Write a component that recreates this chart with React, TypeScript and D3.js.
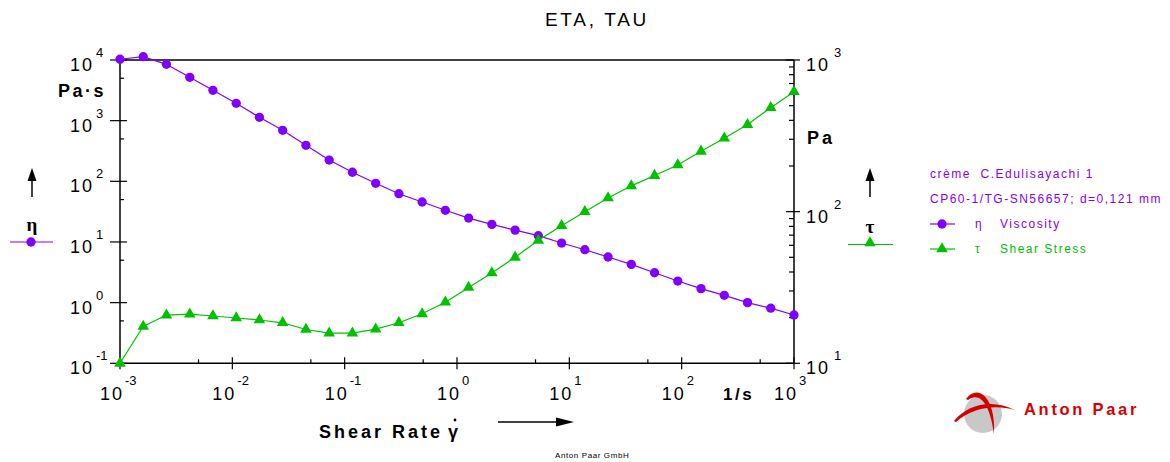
import React, { useRef, useEffect } from 'react';
import * as d3 from 'd3';

// Shear rate points (1/s), log spaced as in the measurement
const shearRate = [
  0.001, 0.00161, 0.00259, 0.00418, 0.00672, 0.01083, 0.01743, 0.02807, 0.0452, 0.07279,
  0.1172, 0.1888, 0.3039, 0.4894, 0.788, 1.269, 2.043, 3.29, 5.298, 8.532,
  13.74, 22.12, 35.62, 57.36, 92.37, 148.7, 239.5, 385.7, 621.0, 1000,
];

// Viscosity eta (Pa·s)
const viscosity = [
  10280, 11330, 8490, 5190, 3165, 1933, 1136, 693, 392, 224,
  141, 92.7, 62.5, 45.6, 33.3, 24.8, 19.5, 15.7, 12.7, 9.61,
  7.46, 5.65, 4.28, 3.11, 2.27, 1.7, 1.32, 1.0, 0.81, 0.625,
];

// Shear stress tau (Pa)
const shearStress = [
  10.0, 17.5, 20.8, 21.1, 20.5, 19.9, 19.3, 18.5, 16.7, 15.8,
  15.8, 16.8, 18.5, 21.2, 25.3, 31.6, 39.4, 50.0, 64.7, 80.8,
  100, 123, 148, 173, 203, 250, 305, 375, 485, 618,
];

const xTickExp = [-3, -2, -1, 0, 1, 2, 3];
const etaTickExp = [-1, 0, 1, 2, 3, 4];
const tauTickExp = [1, 2, 3];

const legendLines = ['crème  C.Edulisayachi 1', 'CP60-1/TG-SN56657; d=0,121 mm'];
const seriesNames = ['Viscosity', 'Shear Stress'];

const PURPLE = '#8000ff';
const GREEN = '#00c000';
const FONT = "Arial, 'Liberation Sans', sans-serif";

export default function App() {
  const ref = useRef<SVGSVGElement>(null);

  useEffect(() => {
    const svg = d3.select(ref.current);
    svg.selectAll('*').remove();

    const left = 120, right = 794, top = 60, bottom = 363.3;

    const x = d3.scaleLog().domain([1e-3, 1e3]).range([left, right]);
    const yEta = d3.scaleLog().domain([1e-1, 1e4]).range([bottom, top]);
    const yTau = d3.scaleLog().domain([10, 1000]).range([bottom, top]);

    // title
    svg.append('text')
      .attr('x', 545).attr('y', 25.5)
      .style('font-family', FONT).style('font-size', '19px').style('letter-spacing', '2.7px')
      .text('ETA, TAU');

    // frame / axes
    const ax = svg.append('g').attr('stroke', '#000').attr('stroke-width', 1.5).attr('fill', 'none');
    ax.append('line').attr('x1', left).attr('x2', right).attr('y1', top).attr('y2', top);
    ax.append('line').attr('x1', left).attr('x2', left).attr('y1', top).attr('y2', bottom);
    ax.append('line').attr('x1', right).attr('x2', right).attr('y1', top).attr('y2', bottom);
    ax.append('line').attr('x1', left).attr('x2', right).attr('y1', bottom).attr('y2', bottom);

    const tk = svg.append('g').attr('stroke', '#000').attr('stroke-width', 1.2);

    // left axis ticks
    etaTickExp.forEach(e => {
      const y = yEta(Math.pow(10, e));
      tk.append('line').attr('x1', left - 10).attr('x2', left + 7).attr('y1', y).attr('y2', y);
      if (e < 4) {
        const ym = yEta(5 * Math.pow(10, e));
        tk.append('line').attr('x1', left).attr('x2', left + 4).attr('y1', ym).attr('y2', ym);
      }
      svg.append('text').attr('x', 70).attr('y', y + 11)
        .style('font-family', FONT).style('font-size', '18px').style('letter-spacing', '2px')
        .text('10');
      svg.append('text').attr('x', 96).attr('y', y - 3)
        .style('font-family', FONT).style('font-size', '13px')
        .text(String(e));
    });

    // right axis ticks
    tauTickExp.forEach(e => {
      const y = yTau(Math.pow(10, e));
      tk.append('line').attr('x1', right - 8).attr('x2', right + 6).attr('y1', y).attr('y2', y);
      if (e < 3) {
        d3.range(2, 10).forEach(m => {
          const ym = yTau(m * Math.pow(10, e));
          tk.append('line').attr('x1', right - 5).attr('x2', right).attr('y1', ym).attr('y2', ym);
        });
      }
      svg.append('text').attr('x', 806).attr('y', y + 11)
        .style('font-family', FONT).style('font-size', '18px').style('letter-spacing', '2px')
        .text('10');
      svg.append('text').attr('x', 834).attr('y', y - 3)
        .style('font-family', FONT).style('font-size', '13px')
        .text(String(e));
    });

    // bottom axis ticks
    xTickExp.forEach(e => {
      const xx = x(Math.pow(10, e));
      tk.append('line').attr('x1', xx).attr('x2', xx).attr('y1', bottom - 6).attr('y2', bottom + 6);
      if (e < 3) {
        const xm = x(5 * Math.pow(10, e));
        tk.append('line').attr('x1', xm).attr('x2', xm).attr('y1', bottom - 4).attr('y2', bottom);
      }
      svg.append('text').attr('x', xx - 20).attr('y', 400)
        .style('font-family', FONT).style('font-size', '18px').style('letter-spacing', '2px')
        .text('10');
      svg.append('text').attr('x', xx + 5).attr('y', 385)
        .style('font-family', FONT).style('font-size', '13px')
        .text(String(e));
    });

    // unit labels
    const bold = (t: string, px: number, py: number, size = 17, ls = 2) =>
      svg.append('text').attr('x', px).attr('y', py)
        .style('font-family', FONT).style('font-size', `${size}px`).style('font-weight', 'bold')
        .style('letter-spacing', `${ls}px`).text(t);
    bold('Pa·s', 58, 97, 18, 2.5);
    bold('Pa', 807, 144, 18, 3);
    bold('1/s', 723, 400, 17, 2.5);
    bold('Shear Rate', 319, 438, 18, 3);
    svg.append('text').attr('x', 448).attr('y', 438)
      .style('font-family', FONT).style('font-size', '18px').style('font-weight', 'bold')
      .text('γ');
    svg.append('circle').attr('cx', 455).attr('cy', 420).attr('r', 1.4).attr('fill', '#000');

    // arrows
    const arrowUp = (ax0: number, yTop: number, yBot: number) => {
      svg.append('line').attr('x1', ax0).attr('x2', ax0).attr('y1', yTop + 8).attr('y2', yBot)
        .attr('stroke', '#000').attr('stroke-width', 1.5);
      svg.append('path')
        .attr('d', `M${ax0},${yTop} L${ax0 - 4.5},${yTop + 13} L${ax0 + 4.5},${yTop + 13} Z`)
        .attr('fill', '#000');
    };
    arrowUp(32, 168, 197);
    arrowUp(870, 168, 197);
    svg.append('line').attr('x1', 498).attr('x2', 562).attr('y1', 422).attr('y2', 422)
      .attr('stroke', '#000').attr('stroke-width', 1.5);
    svg.append('path').attr('d', 'M574,422 L556,417.5 L556,426.5 Z').attr('fill', '#000');

    // greek symbols next to axes
    svg.append('text').attr('x', 32).attr('y', 231).attr('text-anchor', 'middle')
      .style('font-family', "'Liberation Serif', 'Times New Roman', serif")
      .style('font-size', '19px').style('font-weight', 'bold').text('η');
    svg.append('text').attr('x', 870).attr('y', 233).attr('text-anchor', 'middle')
      .style('font-family', "'Liberation Serif', 'Times New Roman', serif")
      .style('font-size', '19px').style('font-weight', 'bold').text('τ');

    const circleSym = d3.symbol().type(d3.symbolCircle).size(68);
    const triSym = d3.symbol().type(d3.symbolTriangle).size(58);

    // axis series keys
    svg.append('line').attr('x1', 10).attr('x2', 53).attr('y1', 242).attr('y2', 242)
      .attr('stroke', PURPLE).attr('stroke-width', 1.2);
    svg.append('path').attr('d', circleSym()).attr('transform', 'translate(31,242)').attr('fill', PURPLE);
    svg.append('line').attr('x1', 848).attr('x2', 893).attr('y1', 244.5).attr('y2', 244.5)
      .attr('stroke', GREEN).attr('stroke-width', 1.2);
    svg.append('path').attr('d', triSym()).attr('transform', 'translate(870,243)').attr('fill', GREEN);

    // series
    const idx = d3.range(shearRate.length);
    const lineEta = d3.line<number>().x(i => x(shearRate[i])).y(i => yEta(viscosity[i]));
    const lineTau = d3.line<number>().x(i => x(shearRate[i])).y(i => yTau(shearStress[i]));

    svg.append('path').attr('d', lineEta(idx)).attr('fill', 'none')
      .attr('stroke', PURPLE).attr('stroke-width', 1.2);
    svg.append('g').selectAll('path').data(idx).enter().append('path')
      .attr('d', circleSym())
      .attr('transform', i => `translate(${x(shearRate[i])},${yEta(viscosity[i])})`)
      .attr('fill', PURPLE);

    svg.append('path').attr('d', lineTau(idx)).attr('fill', 'none')
      .attr('stroke', GREEN).attr('stroke-width', 1.2);
    svg.append('g').selectAll('path').data(idx).enter().append('path')
      .attr('d', triSym())
      .attr('transform', i => `translate(${x(shearRate[i])},${yTau(shearStress[i])})`)
      .attr('fill', GREEN);

    // legend
    const lg = svg.append('g').style('font-family', FONT).style('font-size', '12px')
      .style('letter-spacing', '1.5px');
    legendLines.forEach((t, k) => {
      lg.append('text').attr('x', 930).attr('y', 178 + k * 25).attr('fill', PURPLE)
        .attr('xml:space', 'preserve').style('white-space', 'pre').text(t);
    });
    const sym = [circleSym, triSym];
    const cols = [PURPLE, GREEN];
    const greek = ['η', 'τ'];
    seriesNames.forEach((name, k) => {
      const yy = 224 + k * 25;
      lg.append('line').attr('x1', 930).attr('x2', 955).attr('y1', yy).attr('y2', yy)
        .attr('stroke', cols[k]).attr('stroke-width', 1.2);
      lg.append('path').attr('d', sym[k]()).attr('transform', `translate(942,${yy})`).attr('fill', cols[k]);
      lg.append('text').attr('x', 975).attr('y', yy + 4).attr('fill', cols[k]).text(greek[k]);
      lg.append('text').attr('x', 1000).attr('y', yy + 4).attr('fill', cols[k]).text(name);
    });

    // logo
    const logo = svg.append('g');
    logo.append('circle').attr('cx', 983).attr('cy', 414).attr('r', 19).attr('fill', '#c8c8c8');
    logo.append('path')
      .attr('d', 'M954,421 C968,403 994,399 1015,410 C994,404 972,408 956,422 Z')
      .attr('fill', '#d40000');
    logo.append('path')
      .attr('d', 'M966,399 C978,383 996,398 994,434 C990,404 980,391 968,400 Z')
      .attr('fill', '#d40000');
    svg.append('text').attr('x', 1024).attr('y', 415)
      .style('font-family', FONT).style('font-size', '16.5px').style('font-weight', 'bold')
      .style('letter-spacing', '2.7px').attr('fill', '#d40000')
      .text('Anton Paar');

    svg.append('text').attr('x', 555).attr('y', 458)
      .style('font-family', FONT).style('font-size', '8px').style('letter-spacing', '0.6px')
      .text('Anton Paar GmbH');
  }, []);

  return (
    <svg ref={ref} width={1170} height={462}
      style={{ position: 'absolute', left: 0, top: 0, background: '#fff' }} />
  );
}
